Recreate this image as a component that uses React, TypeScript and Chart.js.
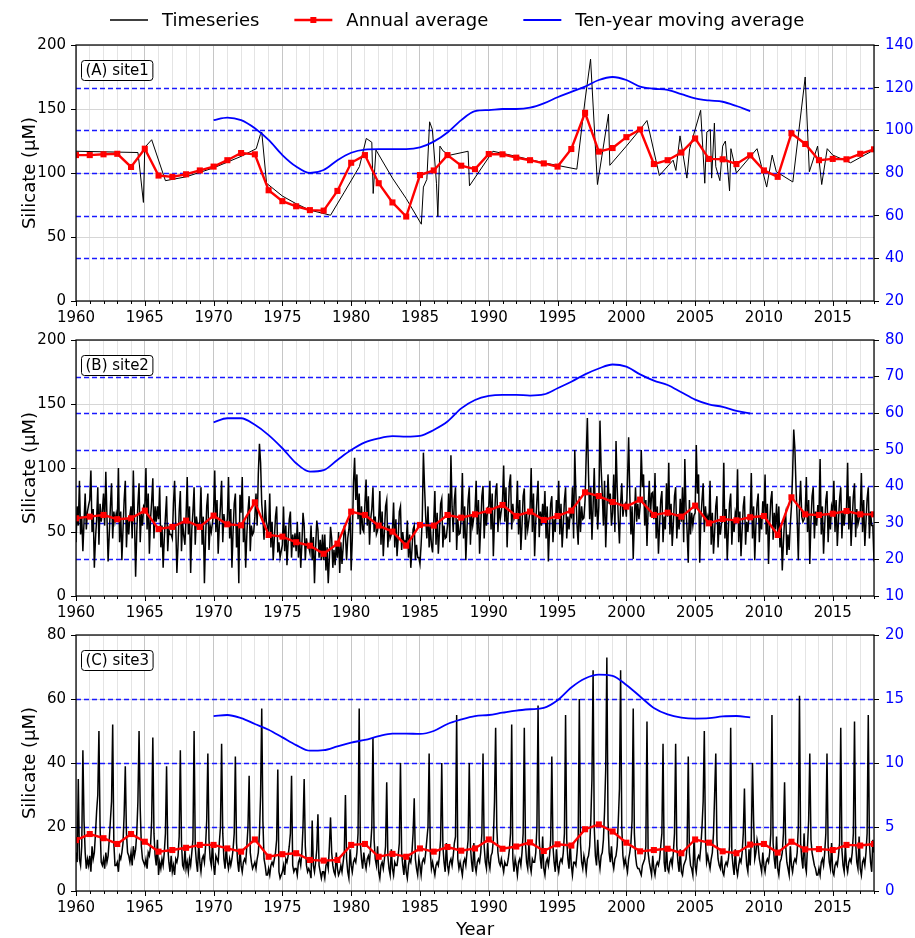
import React, { useEffect, useRef } from 'react';
import { Chart, registerables } from 'chart.js';

Chart.register(...registerables);

const FONT = '"DejaVu Sans", "Liberation Sans", sans-serif';

// ---------- categories ----------
const annualYears = [
  1960, 1961, 1962, 1963, 1964, 1965, 1966, 1967, 1968, 1969,
  1970, 1971, 1972, 1973, 1974, 1975, 1976, 1977, 1978, 1979,
  1980, 1981, 1982, 1983, 1984, 1985, 1986, 1987, 1988, 1989,
  1990, 1991, 1992, 1993, 1994, 1995, 1996, 1997, 1998, 1999,
  2000, 2001, 2002, 2003, 2004, 2005, 2006, 2007, 2008, 2009,
  2010, 2011, 2012, 2013, 2014, 2015, 2016, 2017, 2018,
];
const movingYears = [
  1970, 1971, 1972, 1973, 1974, 1975, 1976, 1977, 1978, 1979,
  1980, 1981, 1982, 1983, 1984, 1985, 1986, 1987, 1988, 1989,
  1990, 1991, 1992, 1993, 1994, 1995, 1996, 1997, 1998, 1999,
  2000, 2001, 2002, 2003, 2004, 2005, 2006, 2007, 2008, 2009,
];

// ---------- site 1 ----------
const site1SampleYears = [
  1960.0, 1964.5, 1964.6, 1964.9, 1965.0, 1965.5, 1966.5, 1968.0, 1970.0, 1972.0,
  1973.1, 1973.4, 1973.5, 1973.85, 1975.0, 1976.0, 1977.0, 1978.5, 1979.5, 1980.6,
  1981.1, 1981.5, 1981.6, 1981.8, 1983.0, 1984.0, 1985.1, 1985.25, 1985.5, 1985.7,
  1985.9, 1986.2, 1986.3, 1986.45, 1986.7, 1987.2, 1988.5, 1988.6, 1990.3, 1992.0,
  1994.0, 1996.4, 1997.0, 1997.4, 1997.9, 1998.7, 1998.8, 2000.0, 2001.0, 2001.5,
  2002.4, 2003.4, 2003.6, 2003.9, 2004.4, 2004.6, 2005.4, 2005.7, 2005.85, 2006.1,
  2006.2, 2006.4, 2006.5, 2006.8, 2007.0, 2007.2, 2007.5, 2007.6, 2008.0, 2009.5,
  2010.2, 2010.6, 2010.9, 2012.1, 2013.0, 2013.3, 2013.9, 2014.2, 2014.6, 2015.0,
  2016.3, 2018.0,
];
const site1Samples = [
  117, 116, 107, 77, 120, 126, 94, 97, 104, 113,
  119, 130, 132, 92, 82, 76, 71, 67, 85, 105,
  127, 124, 84, 118, 96, 80, 60, 89, 95, 140,
  134, 92, 66, 121, 117, 114, 117, 90, 117, 113,
  108, 103, 157, 189, 91, 146, 106, 121, 134, 141,
  98, 110, 102, 129, 96, 119, 149, 92, 132, 134,
  96, 139, 105, 94, 121, 125, 86, 119, 100, 119,
  89, 114, 101, 93, 175, 101, 121, 91, 119, 114,
  108, 118,
];
const site1Annual = [
  114, 114, 114.6, 115, 104.7, 119, 98, 97, 99, 102,
  105, 110, 115.6, 114.6, 86.5, 78, 74, 71, 70.6, 86,
  108, 114, 92, 77, 66, 98.4, 102, 114, 105.7, 103,
  114.8, 114.6, 112, 110, 107.5, 105, 118.75, 147, 116.7, 119.5,
  128, 134, 107, 110, 116, 127, 111, 110.7, 107, 113.8,
  102, 97, 131, 122.7, 110, 111, 110.7, 115, 118.5,
];
const site1Moving = [
  104.8, 106, 104.8, 101, 95.5, 88.4, 83, 80, 81.4, 86,
  89.5, 91, 91.2, 91.2, 91.2, 92, 94.7, 99, 104.8, 109,
  109.5, 110, 110, 110.6, 112.6, 115.5, 118, 120.5, 123.6, 125,
  123.6, 120.5, 119.5, 119, 117, 115, 114, 113.4, 111.4, 109,
];

// ---------- site 2 (12 readings per year, 1960-2017, plus final 2018 value) ----------
const site2Monthly = [
  [42, 70, 55, 90, 48, 62, 35, 58, 80, 52, 66, 71],
  [75, 98, 50, 68, 22, 45, 60, 85, 40, 72, 58, 66],
  [80, 55, 97, 62, 27, 48, 70, 88, 45, 66, 58, 64],
  [58, 100, 42, 66, 28, 52, 75, 90, 38, 60, 48, 63],
  [70, 45, 98, 60, 15, 50, 72, 88, 42, 64, 55, 70],
  [68, 100, 52, 80, 33, 60, 74, 92, 45, 70, 58, 70],
  [60, 85, 38, 55, 22, 45, 62, 78, 35, 52, 48, 48],
  [45, 72, 90, 55, 18, 40, 66, 82, 35, 58, 47, 40],
  [62, 93, 48, 70, 18, 52, 66, 85, 40, 62, 55, 56],
  [58, 85, 40, 62, 10, 45, 70, 80, 36, 55, 50, 57],
  [66, 98, 50, 75, 33, 55, 70, 90, 42, 64, 55, 56],
  [60, 93, 45, 68, 22, 50, 72, 80, 38, 55, 10, 79],
  [65, 93, 42, 60, 22, 48, 66, 78, 35, 55, 48, 50],
  [62, 80, 55, 95, 119, 104, 72, 60, 44, 75, 58, 54],
  [50, 80, 38, 58, 28, 45, 62, 70, 34, 42, 30, 35],
  [40, 70, 35, 55, 24, 42, 60, 66, 30, 48, 38, 49],
  [35, 58, 30, 50, 22, 40, 65, 55, 28, 45, 38, 38],
  [34, 55, 28, 46, 10, 38, 59, 52, 30, 44, 28, 48],
  [28, 48, 20, 38, 10, 30, 54, 45, 22, 36, 24, 41],
  [30, 50, 18, 42, 25, 38, 55, 48, 28, 45, 52, 65],
  [20, 45, 88, 108, 75, 95, 60, 80, 48, 70, 52, 50],
  [72, 91, 55, 78, 40, 60, 68, 85, 50, 62, 48, 51],
  [60, 82, 40, 66, 31, 50, 70, 75, 38, 55, 45, 48],
  [52, 73, 38, 60, 31, 45, 66, 70, 36, 50, 40, 43],
  [42, 59, 30, 48, 22, 36, 52, 55, 28, 40, 30, 30],
  [25, 40, 60, 112, 85, 62, 45, 70, 38, 55, 40, 34],
  [58, 82, 40, 65, 33, 50, 72, 76, 38, 55, 45, 46],
  [55, 80, 42, 110, 70, 50, 75, 85, 36, 60, 48, 49],
  [62, 96, 45, 70, 28, 52, 75, 85, 40, 64, 55, 62],
  [66, 90, 48, 75, 33, 55, 78, 86, 45, 66, 55, 69],
  [70, 90, 52, 80, 31, 60, 82, 88, 50, 70, 60, 67],
  [75, 102, 58, 85, 38, 65, 88, 95, 52, 72, 60, 63],
  [65, 90, 48, 75, 36, 55, 78, 84, 44, 64, 52, 59],
  [68, 100, 50, 80, 31, 58, 75, 90, 46, 66, 55, 72],
  [60, 82, 45, 70, 27, 52, 72, 78, 42, 60, 50, 75],
  [64, 90, 48, 72, 38, 55, 75, 85, 45, 62, 52, 64],
  [62, 85, 45, 114, 80, 55, 40, 78, 50, 70, 60, 61],
  [75, 110, 139, 95, 60, 85, 44, 70, 100, 62, 80, 52],
  [70, 137, 100, 80, 55, 90, 38, 65, 95, 72, 80, 55],
  [65, 95, 50, 121, 85, 60, 41, 72, 88, 62, 70, 72],
  [62, 90, 124, 80, 48, 70, 29, 60, 85, 58, 72, 60],
  [70, 114, 85, 95, 55, 75, 39, 68, 90, 62, 80, 81],
  [60, 96, 45, 70, 33, 55, 75, 82, 42, 62, 52, 88],
  [62, 104, 48, 72, 39, 56, 78, 85, 45, 64, 52, 76],
  [58, 85, 42, 107, 70, 50, 26, 75, 48, 65, 55, 63],
  [65, 118, 80, 95, 26, 60, 75, 88, 50, 70, 58, 62],
  [55, 90, 40, 65, 33, 50, 70, 78, 38, 58, 48, 57],
  [58, 104, 45, 68, 28, 52, 72, 80, 40, 60, 50, 65],
  [60, 99, 42, 66, 31, 52, 70, 78, 40, 58, 50, 63],
  [62, 96, 45, 70, 28, 55, 72, 80, 42, 62, 52, 74],
  [64, 95, 48, 72, 25, 56, 75, 82, 44, 65, 52, 72],
  [50, 70, 38, 55, 20, 42, 60, 65, 32, 48, 36, 56],
  [70, 95, 130, 115, 85, 60, 28, 72, 90, 62, 58, 60],
  [65, 93, 50, 75, 25, 58, 78, 85, 45, 66, 55, 71],
  [62, 107, 48, 70, 33, 55, 75, 82, 42, 64, 52, 70],
  [66, 90, 50, 75, 39, 58, 76, 85, 45, 66, 55, 67],
  [68, 104, 52, 78, 39, 60, 78, 88, 46, 68, 56, 60],
  [65, 96, 50, 75, 39, 58, 76, 85, 45, 66, 55, 55],
];
const site2Final = 27;
const site2Annual = [
  60.7, 62, 63.3, 60, 60.7, 66.7, 52.3, 54, 58.9, 54,
  62.8, 56, 55.2, 73.2, 47.7, 46.4, 42, 39.3, 33, 40.9,
  65.9, 63.3, 55, 50.3, 39.3, 55.5, 55, 63.3, 61.2, 63.8,
  66.7, 71.1, 62.5, 65.9, 59.4, 62.5, 66.7, 81, 78.1, 73.4,
  69.8, 75.3, 63.3, 65.1, 62, 70.6, 56.8, 60.2, 59.1, 61.5,
  62.5, 47.7, 77.1, 63.8, 63.3, 64.3, 66.4, 63.8, 63.8,
];
const site2Moving = [
  57.5, 58.6, 58.6, 56.8, 54, 50.4, 46.3, 44, 44.4, 47.2,
  49.9, 52, 53.1, 53.7, 53.6, 53.8, 55.4, 57.7, 61.3, 63.6,
  64.7, 65, 65, 64.8, 65.1, 66.8, 68.6, 70.6, 72.2, 73.3,
  72.7, 70.6, 68.9, 67.7, 65.7, 63.7, 62.4, 61.7, 60.6, 59.9,
];

// ---------- site 3 ----------
const site3Monthly = [
  [12, 9, 35, 10, 8, 14, 44, 22, 12, 7, 10, 8],
  [11, 6, 14, 10, 12, 18, 25, 30, 50, 20, 9, 8],
  [10, 7, 12, 9, 11, 16, 22, 28, 52, 15, 8, 8],
  [9, 6, 11, 10, 12, 15, 24, 39, 18, 12, 11, 9],
  [12, 8, 14, 11, 13, 18, 28, 50, 26, 14, 10, 9],
  [8, 10, 7, 12, 11, 14, 22, 48, 18, 11, 8, 16],
  [5, 9, 7, 10, 8, 12, 18, 39, 14, 9, 6, 11],
  [6, 8, 5, 10, 9, 11, 17, 44, 15, 8, 7, 13],
  [7, 9, 6, 10, 8, 12, 16, 50, 14, 9, 6, 15],
  [9, 6, 10, 11, 9, 14, 22, 43, 16, 10, 8, 15],
  [8, 5, 11, 10, 9, 15, 20, 46, 18, 10, 7, 14],
  [9, 7, 10, 8, 10, 13, 18, 42, 15, 9, 6, 13],
  [8, 6, 9, 10, 9, 14, 20, 36, 12, 9, 7, 8],
  [9, 7, 10, 12, 18, 30, 57, 22, 10, 8, 5, 5],
  [7, 5, 8, 9, 8, 10, 12, 16, 38, 6, 4, 5],
  [6, 8, 5, 10, 9, 11, 14, 18, 36, 8, 6, 7],
  [7, 5, 9, 10, 8, 12, 20, 35, 14, 8, 6, 7],
  [6, 4, 22, 8, 6, 9, 13, 24, 8, 6, 4, 6],
  [6, 4, 8, 9, 7, 14, 23, 12, 8, 6, 5, 12],
  [7, 5, 6, 8, 6, 9, 12, 30, 10, 6, 4, 13],
  [8, 6, 9, 10, 9, 12, 18, 57, 15, 10, 7, 12],
  [9, 7, 10, 11, 9, 14, 20, 48, 16, 10, 8, 14],
  [6, 4, 8, 9, 7, 10, 14, 34, 11, 7, 5, 13],
  [7, 5, 9, 8, 8, 11, 15, 40, 12, 8, 5, 11],
  [6, 4, 8, 10, 9, 12, 18, 29, 10, 7, 5, 10],
  [8, 5, 9, 10, 9, 12, 16, 20, 43, 12, 7, 9],
  [7, 5, 8, 9, 8, 11, 16, 40, 14, 9, 6, 15],
  [8, 6, 9, 10, 8, 11, 15, 17, 55, 10, 7, 9],
  [7, 5, 9, 10, 8, 12, 16, 40, 14, 9, 6, 15],
  [8, 6, 9, 10, 9, 12, 18, 43, 14, 9, 7, 15],
  [9, 7, 11, 12, 16, 28, 51, 20, 12, 9, 8, 10],
  [8, 6, 9, 8, 8, 10, 13, 18, 52, 10, 6, 10],
  [8, 5, 9, 10, 8, 12, 18, 51, 15, 9, 7, 15],
  [8, 6, 10, 9, 9, 12, 20, 58, 16, 10, 7, 17],
  [7, 5, 9, 10, 8, 11, 16, 42, 14, 9, 6, 13],
  [8, 6, 9, 10, 9, 12, 18, 55, 16, 10, 7, 15],
  [8, 5, 9, 9, 8, 12, 17, 60, 15, 9, 7, 11],
  [9, 6, 10, 11, 14, 22, 35, 69, 20, 11, 8, 16],
  [10, 7, 11, 12, 16, 25, 38, 73, 22, 12, 9, 14],
  [9, 7, 10, 11, 14, 22, 32, 69, 20, 11, 8, 10],
  [8, 6, 10, 12, 15, 22, 57, 18, 11, 8, 7, 7],
  [6, 5, 8, 9, 10, 14, 53, 12, 9, 7, 5, 11],
  [7, 5, 8, 9, 8, 10, 14, 18, 46, 9, 6, 14],
  [7, 6, 9, 10, 8, 12, 18, 46, 14, 9, 6, 13],
  [6, 5, 8, 9, 10, 14, 42, 12, 8, 7, 5, 16],
  [8, 6, 10, 11, 10, 14, 20, 28, 50, 16, 9, 11],
  [9, 7, 10, 12, 18, 30, 43, 16, 10, 8, 7, 11],
  [6, 5, 8, 9, 8, 10, 14, 51, 12, 8, 5, 13],
  [7, 5, 8, 10, 9, 12, 18, 32, 14, 8, 6, 13],
  [8, 16, 40, 22, 10, 12, 16, 14, 10, 8, 6, 12],
  [8, 6, 9, 10, 9, 12, 18, 55, 15, 10, 7, 17],
  [7, 5, 9, 10, 12, 18, 34, 14, 9, 7, 5, 14],
  [8, 6, 9, 10, 9, 12, 20, 61, 15, 10, 7, 18],
  [8, 6, 14, 22, 43, 16, 12, 10, 8, 7, 5, 5],
  [7, 5, 9, 10, 8, 12, 18, 43, 14, 9, 7, 15],
  [6, 5, 8, 9, 8, 11, 15, 51, 13, 8, 6, 14],
  [8, 6, 9, 10, 9, 12, 18, 53, 15, 9, 7, 17],
  [7, 5, 9, 10, 8, 12, 18, 55, 15, 9, 6, 16],
];
const site3Final = 12;
const site3Annual = [
  15.9, 17.8, 16.5, 14.7, 17.8, 15.4, 12.3, 12.8, 13.5, 14.4,
  14.4, 13.3, 12.3, 16.1, 10.7, 11.5, 11.8, 9.7, 9.5, 9.7,
  14.4, 14.7, 10.7, 11.6, 10.7, 13.3, 12.3, 13.75, 12.6, 13.3,
  16.1, 13.2, 13.9, 15.2, 12.5, 14.6, 14.2, 19.3, 20.8, 18.6,
  15.1, 12.4, 12.8, 13.2, 11.8, 16.1, 15.1, 12.4, 11.8, 14.5,
  14.7, 12, 15.4, 13, 13.1, 12.8, 14.4, 14.2, 14.7,
];
const site3Moving = [
  13.67, 13.75, 13.5, 13.05, 12.6, 12.0, 11.4, 10.96, 11.0, 11.3,
  11.6, 11.8, 12.1, 12.3, 12.3, 12.27, 12.5, 13.05, 13.4, 13.67,
  13.75, 13.93, 14.1, 14.2, 14.3, 14.9, 15.9, 16.6, 16.9, 16.8,
  16.1, 15.2, 14.3, 13.8, 13.55, 13.47, 13.5, 13.64, 13.67, 13.57,
];

// ---------- tick settings ----------
const leftTicks1 = { max: 200, step: 50 };
const rightTicks1 = { min: 20, max: 140, step: 20 };
const leftTicks2 = { max: 200, step: 50 };
const rightTicks2 = { min: 10, max: 80, step: 10 };
const leftTicks3 = { max: 80, step: 20 };
const rightTicks3 = { min: 0, max: 20, step: 5 };

type Pt = { x: number; y: number };

function monthlyPoints(rows: number[][], final: number): Pt[] {
  const pts: Pt[] = [];
  rows.forEach((row, k) => {
    row.forEach((v, j) => pts.push({ x: annualYears[k] + j / row.length, y: v }));
  });
  pts.push({ x: annualYears[annualYears.length - 1], y: final });
  return pts;
}

type Spec = {
  label: string;
  ts: Pt[];
  tsWidth: number;
  annual: number[];
  moving: number[];
  left: { max: number; step: number };
  right: { min: number; max: number; step: number };
  padTop: number;
  xHeight: number;
  legend: boolean;
  xTitle: boolean;
};

function drawLegend(ctx: CanvasRenderingContext2D) {
  const items = [
    { label: 'Timeseries', color: '#000000', width: 1.5, marker: false },
    { label: 'Annual average', color: '#ff0000', width: 2.4, marker: true },
    { label: 'Ten-year moving average', color: '#0000ff', width: 1.8, marker: false },
  ];
  ctx.save();
  ctx.font = `18px ${FONT}`;
  ctx.textBaseline = 'middle';
  ctx.textAlign = 'left';
  let x = 110;
  const y = 20;
  items.forEach((it) => {
    ctx.strokeStyle = it.color;
    ctx.lineWidth = it.width;
    ctx.beginPath();
    ctx.moveTo(x, y);
    ctx.lineTo(x + 38, y);
    ctx.stroke();
    if (it.marker) {
      ctx.fillStyle = it.color;
      ctx.fillRect(x + 19 - 3, y - 3, 6, 6);
    }
    ctx.fillStyle = '#000';
    ctx.fillText(it.label, x + 52, y + 1);
    x = x + 52 + ctx.measureText(it.label).width + 35;
  });
  ctx.restore();
}

function buildChart(canvas: HTMLCanvasElement, spec: Spec) {
  const annual = annualYears.map((x, i) => ({ x, y: spec.annual[i] }));
  const moving = movingYears.map((x, i) => ({ x, y: spec.moving[i] }));

  const decor = {
    id: 'decor',
    beforeDatasetsDraw(chart: any) {
      const { ctx, chartArea: a } = chart;
      const r = chart.scales.yR;
      ctx.save();
      ctx.strokeStyle = '#1a1aff';
      ctx.lineWidth = 1.5;
      ctx.setLineDash([5, 3]);
      r.ticks.forEach((t: any) => {
        if (t.value > r.min && t.value < r.max) {
          const y = Math.round(r.getPixelForValue(t.value)) + 0.5;
          ctx.beginPath();
          ctx.moveTo(a.left, y);
          ctx.lineTo(a.right, y);
          ctx.stroke();
        }
      });
      ctx.restore();
    },
    afterDraw(chart: any) {
      const { ctx, chartArea: a } = chart;
      const xs = chart.scales.x;
      ctx.save();
      // x tick marks
      ctx.strokeStyle = '#000';
      ctx.lineWidth = 1;
      ctx.beginPath();
      xs.ticks.forEach((t: any) => {
        const px = Math.round(xs.getPixelForValue(t.value)) + 0.5;
        const len = t.value % 5 === 0 ? 5 : 3;
        ctx.moveTo(px, a.bottom);
        ctx.lineTo(px, a.bottom + len);
      });
      ctx.stroke();
      // frame
      ctx.lineWidth = 1.25;
      ctx.strokeRect(a.left, a.top, a.right - a.left, a.bottom - a.top);
      // panel label
      ctx.font = `15px ${FONT}`;
      const tw = ctx.measureText(spec.label).width;
      const bx = a.left + 5;
      const by = a.top + 15;
      const bw = tw + 8;
      const bh = 20;
      ctx.beginPath();
      ctx.roundRect(bx + 0.5, by + 0.5, bw, bh, 3);
      ctx.fillStyle = '#fff';
      ctx.fill();
      ctx.lineWidth = 1;
      ctx.strokeStyle = '#000';
      ctx.stroke();
      ctx.fillStyle = '#000';
      ctx.textBaseline = 'middle';
      ctx.textAlign = 'left';
      ctx.fillText(spec.label, bx + 4.5, by + bh / 2 + 1);
      // y title
      ctx.save();
      ctx.translate(30, (a.top + a.bottom) / 2);
      ctx.rotate(-Math.PI / 2);
      ctx.font = `18px ${FONT}`;
      ctx.textAlign = 'center';
      ctx.textBaseline = 'middle';
      ctx.fillText('Silicate (μM)', 0, 0);
      ctx.restore();
      if (spec.xTitle) {
        ctx.font = `18px ${FONT}`;
        ctx.textAlign = 'center';
        ctx.textBaseline = 'middle';
        ctx.fillText('Year', (a.left + a.right) / 2, a.bottom + 39);
      }
      ctx.restore();
      if (spec.legend) drawLegend(ctx);
    },
  };

  return new Chart(canvas, {
    type: 'line',
    data: {
      datasets: [
        {
          label: 'Timeseries',
          data: spec.ts,
          borderColor: '#000000',
          borderWidth: spec.tsWidth,
          pointRadius: 0,
          yAxisID: 'y',
          order: 3,
          tension: 0,
        },
        {
          label: 'Annual average',
          data: annual,
          borderColor: '#ff0000',
          backgroundColor: '#ff0000',
          borderWidth: 2.4,
          pointStyle: 'rect',
          pointRadius: 4.3,
          pointBorderWidth: 0,
          pointBackgroundColor: '#ff0000',
          yAxisID: 'y',
          order: 2,
          tension: 0,
        },
        {
          label: 'Ten-year moving average',
          data: moving,
          borderColor: '#0000ff',
          borderWidth: 1.8,
          pointRadius: 0,
          yAxisID: 'yR',
          cubicInterpolationMode: 'monotone',
          order: 1,
        },
      ],
    },
    options: {
      responsive: false,
      animation: false,
      events: [],
      layout: { padding: { top: spec.padTop, left: 0, right: 0, bottom: 0 } },
      plugins: { legend: { display: false }, tooltip: { enabled: false } },
      scales: {
        x: {
          type: 'linear',
          min: 1960,
          max: 2018,
          afterFit: (s: any) => {
            s.height = spec.xHeight;
          },
          border: { display: false },
          grid: {
            color: (c: any) => (c.tick && c.tick.value % 5 === 0 ? '#c6c6c6' : '#e4e4e4'),
            lineWidth: 1,
            tickLength: 5,
            tickColor: 'rgba(0,0,0,0)',
          },
          ticks: {
            stepSize: 1,
            autoSkip: false,
            maxRotation: 0,
            minRotation: 0,
            padding: 3,
            color: '#000',
            font: { family: FONT, size: 15 },
            callback: (v: any) => (Number(v) % 5 === 0 ? String(v) : ''),
          },
        },
        y: {
          type: 'linear',
          position: 'left',
          min: 0,
          max: spec.left.max,
          afterFit: (s: any) => {
            s.width = 76;
          },
          border: { display: false },
          grid: { color: '#d6d6d6', lineWidth: 1, tickLength: 5, tickColor: '#000' },
          ticks: {
            stepSize: spec.left.step,
            padding: 5,
            color: '#000',
            font: { family: FONT, size: 15 },
            callback: (v: any) => String(v),
          },
        },
        yR: {
          type: 'linear',
          position: 'right',
          min: spec.right.min,
          max: spec.right.max,
          afterFit: (s: any) => {
            s.width = 41;
          },
          border: { display: false },
          grid: { drawOnChartArea: false, tickLength: 5, tickColor: '#000' },
          ticks: {
            stepSize: spec.right.step,
            padding: 6,
            color: '#0000ff',
            font: { family: FONT, size: 15 },
            callback: (v: any) => String(v),
          },
        },
      },
    } as any,
    plugins: [decor],
  } as any);
}

export default function App() {
  const refA = useRef<HTMLCanvasElement>(null);
  const refB = useRef<HTMLCanvasElement>(null);
  const refC = useRef<HTMLCanvasElement>(null);

  useEffect(() => {
    const site1Ts = site1SampleYears.map((x, i) => ({ x, y: site1Samples[i] }));
    const charts = [
      buildChart(refA.current!, {
        label: '(A) site1',
        ts: site1Ts,
        tsWidth: 1,
        annual: site1Annual,
        moving: site1Moving,
        left: leftTicks1,
        right: rightTicks1,
        padTop: 45,
        xHeight: 24,
        legend: true,
        xTitle: false,
      }),
      buildChart(refB.current!, {
        label: '(B) site2',
        ts: monthlyPoints(site2Monthly, site2Final),
        tsWidth: 1.5,
        annual: site2Annual,
        moving: site2Moving,
        left: leftTicks2,
        right: rightTicks2,
        padTop: 15,
        xHeight: 24,
        legend: false,
        xTitle: false,
      }),
      buildChart(refC.current!, {
        label: '(C) site3',
        ts: monthlyPoints(site3Monthly, site3Final),
        tsWidth: 1.5,
        annual: site3Annual,
        moving: site3Moving,
        left: leftTicks3,
        right: rightTicks3,
        padTop: 15,
        xHeight: 47,
        legend: false,
        xTitle: true,
      }),
    ];
    return () => charts.forEach((c) => c.destroy());
  }, []);

  const cv = (top: number, h: number) => ({
    position: 'absolute' as const,
    left: 0,
    top,
    width: 915,
    height: h,
    display: 'block',
  });

  return (
    <div style={{ position: 'absolute', left: 0, top: 0, width: 915, height: 938, background: '#fff' }}>
      <canvas ref={refA} width={915} height={325} style={cv(0, 325)} />
      <canvas ref={refB} width={915} height={295} style={cv(325, 295)} />
      <canvas ref={refC} width={915} height={318} style={cv(620, 318)} />
    </div>
  );
}
